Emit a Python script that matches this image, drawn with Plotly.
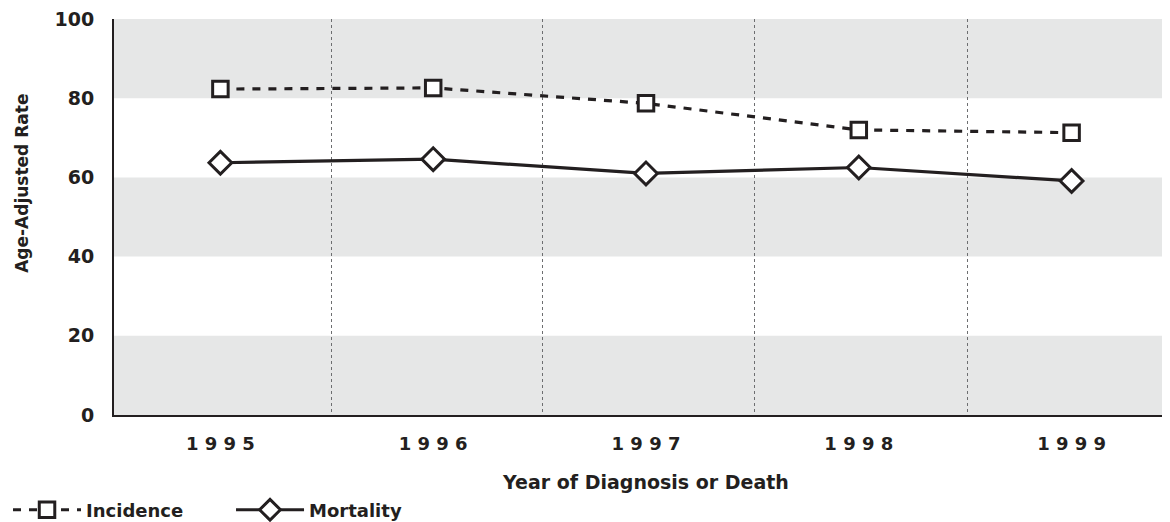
import plotly.graph_objects as go

years = ["1995", "1996", "1997", "1998", "1999"]
incidence = [82.3, 82.6, 78.7, 72.0, 71.3]
mortality = [63.7, 64.6, 61.0, 62.5, 59.1]
y_ticks = [0, 20, 40, 60, 80, 100]

ink = "#231f20"
band = "#e6e7e7"
font_family = "DejaVu Sans"

x_pos = list(range(len(years)))
spaced_years = [" ".join(list(y)) for y in years]
separators = [0.52, 1.515, 2.51, 3.51]

fig = go.Figure()
fig.add_trace(go.Scatter(
    x=x_pos, y=incidence, name="Incidence", mode="lines+markers",
    line=dict(color=ink, width=3.2, dash="8px,8px"),
    marker=dict(symbol="square", size=15.5, color="white", line=dict(color=ink, width=3)),
))
fig.add_trace(go.Scatter(
    x=x_pos, y=mortality, name="Mortality", mode="lines+markers",
    line=dict(color=ink, width=3.2),
    marker=dict(symbol="diamond", size=17.5, color="white", line=dict(color=ink, width=3)),
))

# alternating horizontal bands
for i in range(0, len(y_ticks) - 1):
    if i % 2 == 0:
        fig.add_shape(type="rect", xref="paper", yref="y", x0=0, x1=1,
                      y0=y_ticks[i], y1=y_ticks[i + 1], fillcolor=band,
                      line=dict(width=0), layer="below")

fig.update_layout(
    width=1170, height=522,
    margin=dict(l=106, r=0, t=11, b=115, autoexpand=False),
    paper_bgcolor="white", plot_bgcolor="white",
    font=dict(family=font_family, color=ink, size=17, weight="bold"),
    showlegend=True,
    legend=dict(orientation="h", x=-0.0996, y=-0.24, xanchor="left", yanchor="middle",
                font=dict(size=18, color=ink, weight="bold"),
                itemwidth=68, entrywidth=140, entrywidthmode="pixels",
                bgcolor="rgba(0,0,0,0)"),
    xaxis=dict(
        range=[-0.5, 4.5], tickvals=x_pos, ticktext=spaced_years,
        showgrid=False, zeroline=False, showline=True, linecolor=ink, linewidth=2,
        ticks="", ticklabelstandoff=11, tickfont=dict(size=18, color=ink, weight="bold"),
        ticklabeloverflow="allow", automargin=False,
        minor=dict(tickvals=separators, showgrid=True, griddash="dot",
                   gridcolor="#6d6e70", gridwidth=1, ticks=""),
        title=dict(text="Year of Diagnosis or Death", standoff=23,
                   font=dict(size=19, color=ink, weight="bold")),
    ),
    yaxis=dict(
        range=[0, 100], tickvals=y_ticks, showgrid=False, zeroline=False,
        showline=True, linecolor=ink, linewidth=2, ticks="", ticklabelstandoff=14,
        tickfont=dict(size=19, color=ink, weight="bold"),
        ticklabeloverflow="allow", automargin=False,
    ),
    annotations=[dict(
        text="Age-Adjusted Rate", textangle=-90, xref="paper", yref="paper",
        x=-0.086, y=0.585, xanchor="center", yanchor="middle", showarrow=False,
        font=dict(size=17, color=ink, weight="bold"),
    )],
)

fig.write_html("out.html")
